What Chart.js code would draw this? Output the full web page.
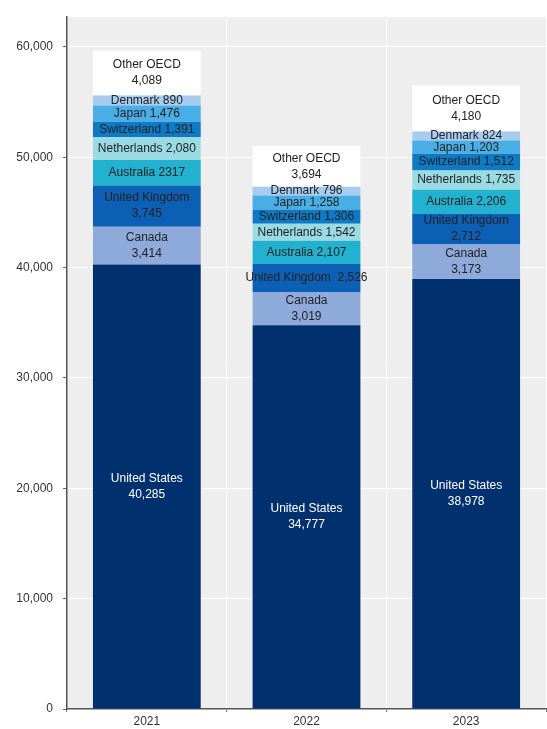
<!DOCTYPE html>
<html>
<head>
<meta charset="utf-8">
<script src="https://cdn.jsdelivr.net/npm/chart.js@4.4.1/dist/chart.umd.min.js"></script>
<style>
  html, body { margin: 0; padding: 0; background: #fff; }
  #wrap { width: 547px; height: 729px; position: relative; }
</style>
</head>
<body>
<div id="wrap"><canvas id="chart"></canvas></div>
<script>
// Stacked bars, one per year, segments labelled in place.
const years = ["2021", "2022", "2023"];
const countries = ["United States", "Canada", "United Kingdom", "Australia", "Netherlands", "Switzerland", "Japan", "Denmark", "Other OECD"];
const unitedStates = [40285, 34777, 38978];
const canada = [3414, 3019, 3173];
const unitedKingdom = [3745, 2526, 2712];
const australia = [2317, 2107, 2206];
const netherlands = [2080, 1542, 1735];
const switzerland = [1391, 1306, 1512];
const japan = [1476, 1258, 1203];
const denmark = [890, 796, 824];
const otherOecd = [4089, 3694, 4180];
const yTicks = [0, 10000, 20000, 30000, 40000, 50000, 60000];

const series = [unitedStates, canada, unitedKingdom, australia, netherlands, switzerland, japan, denmark, otherOecd];
const fills = ["#00306e", "#8eaadb", "#0b5fb4", "#22b2cf", "#9adbe3", "#0c7ac4", "#4aaee6", "#a8ccef", "#ffffff"];
const twoLine = new Set(["United States", "Canada", "United Kingdom", "Other OECD"]);

const fmt = (v) => v.toLocaleString("en-US");

function labelLines(name, value, yearIndex) {
  if (name === "United Kingdom" && yearIndex === 1) return [name + "  " + fmt(value)];
  if (name === "Australia" && yearIndex === 0) return [name + " " + String(value)];
  return twoLine.has(name) ? [name, fmt(value)] : [name + " " + fmt(value)];
}

const plotBackground = {
  id: "plotBackground",
  beforeDraw(chart) {
    const { ctx, chartArea: a } = chart;
    ctx.save();
    ctx.fillStyle = "#eeeeee";
    ctx.fillRect(a.left, a.top, a.right - a.left, a.bottom - a.top);
    ctx.restore();
  },
};

const segmentLabels = {
  id: "segmentLabels",
  afterDatasetsDraw(chart) {
    const { ctx } = chart;
    ctx.save();
    ctx.font = '12px "Liberation Sans", Arial, sans-serif';
    ctx.textAlign = "center";
    ctx.textBaseline = "middle";
    chart.data.datasets.forEach((ds, di) => {
      chart.getDatasetMeta(di).data.forEach((bar, i) => {
        const lines = labelLines(ds.label, ds.data[i], i);
        const mid = (bar.y + bar.base) / 2;
        const lh = 16;
        const start = mid - ((lines.length - 1) * lh) / 2;
        ctx.fillStyle = ds.label === "United States" ? "#ffffff" : "#222222";
        lines.forEach((t, k) => ctx.fillText(t, bar.x, start + k * lh));
      });
    });
    ctx.restore();
  },
};

new Chart(document.getElementById("chart"), {
  type: "bar",
  data: {
    labels: years,
    datasets: series.map((data, i) => ({
      label: countries[i],
      data,
      backgroundColor: fills[i],
      borderWidth: 0,
      barPercentage: 0.675,
      categoryPercentage: 1,
    })),
  },
  options: {
    responsive: true,
    maintainAspectRatio: false,
    animation: false,
    layout: { padding: { top: 10, right: 1, left: 0, bottom: 0 } },
    plugins: { legend: { display: false }, tooltip: { enabled: false } },
    scales: {
      x: {
        stacked: true,
        grid: { color: "#ffffff", lineWidth: 1, tickLength: 3, tickColor: "#777777" },
        border: { color: "#555555", width: 1.5 },
        ticks: { color: "#333333", padding: 2, font: { family: '"Liberation Sans", Arial, sans-serif', size: 12 } },
        afterFit: (s) => { s.height = 20; },
      },
      y: {
        stacked: true,
        min: 0,
        max: 62700,
        afterBuildTicks: (s) => { s.ticks = yTicks.map((v) => ({ value: v })); },
        grid: { color: "#ffffff", lineWidth: 1, tickLength: 4, tickColor: "#666666" },
        border: { color: "#555555", width: 1.5 },
        ticks: {
          color: "#333333",
          padding: 10,
          font: { family: '"Liberation Sans", Arial, sans-serif', size: 12 },
          callback: (v) => fmt(v),
        },
        afterFit: (s) => { s.width = 67; },
      },
    },
  },
  plugins: [plotBackground, segmentLabels],
});
</script>
</body>
</html>
